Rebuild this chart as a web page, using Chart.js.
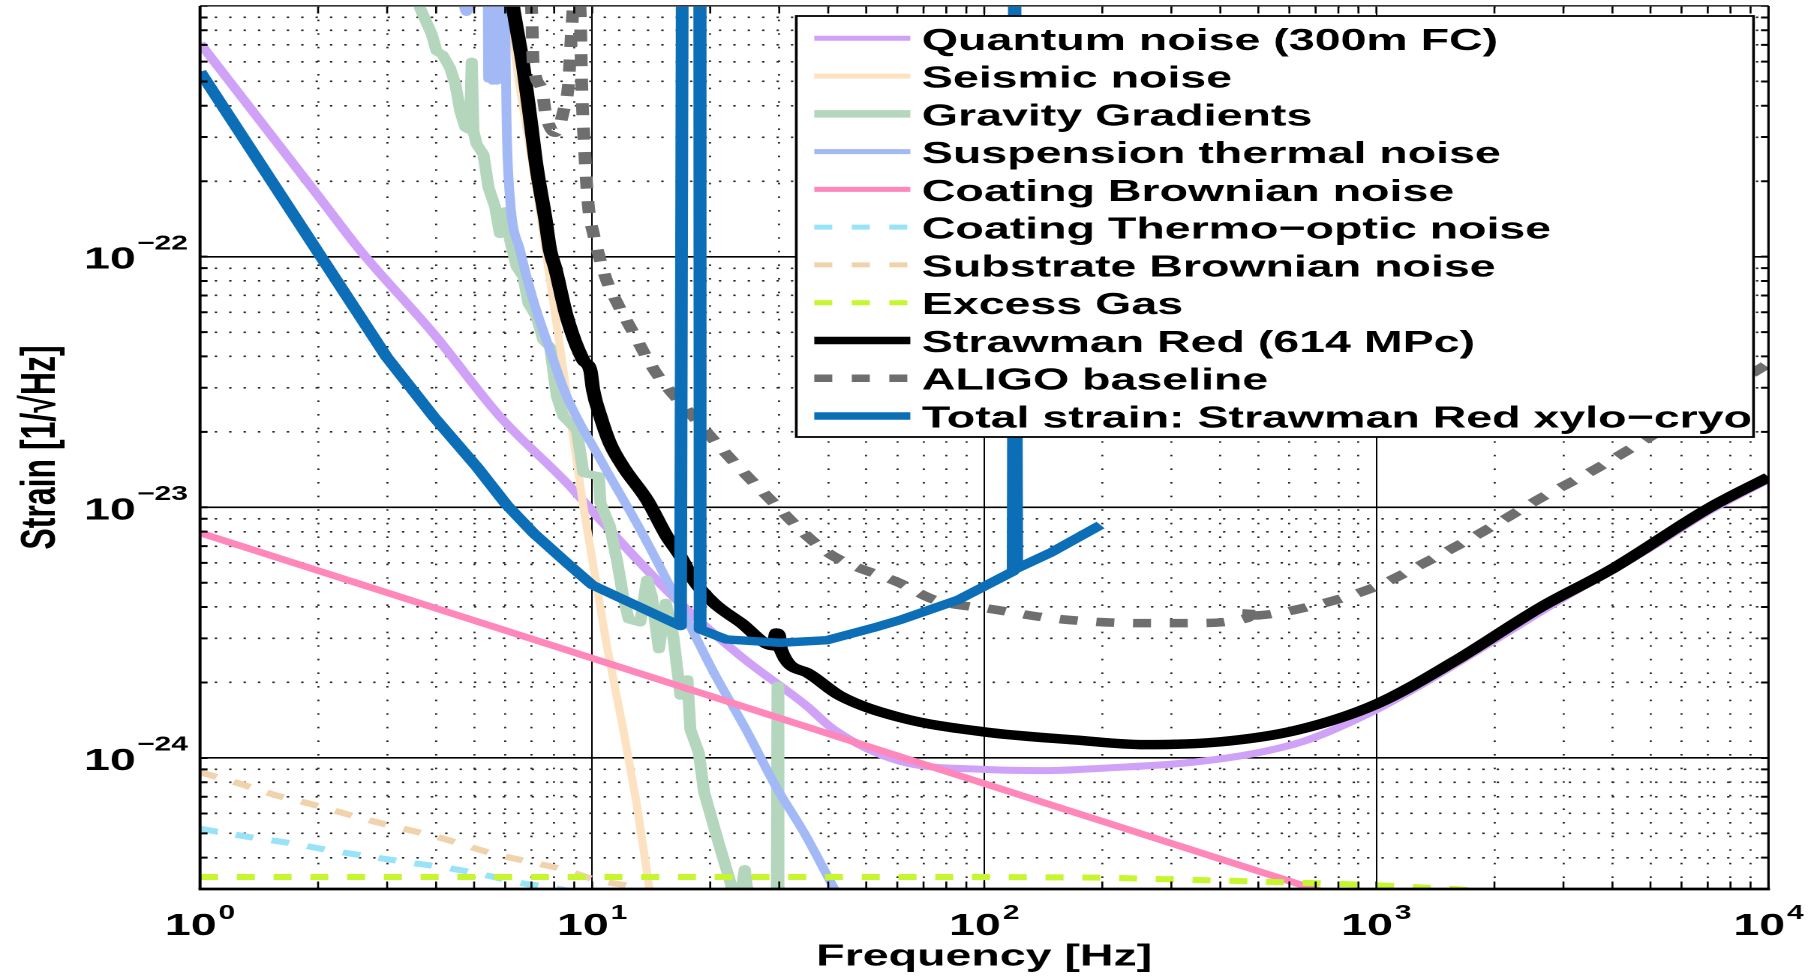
<!DOCTYPE html>
<html>
<head>
<meta charset="utf-8">
<title>Strawman Red noise budget</title>
<script src="https://cdn.jsdelivr.net/npm/chart.js@4.4.0/dist/chart.umd.min.js"></script>
<style>
html, body { margin: 0; padding: 0; background: #fff; overflow: hidden; }
/* the original figure is stretched horizontally, so the canvas is too */
#wrap { width: 1209px; height: 976px; transform: scaleX(1.5004); transform-origin: 0 0; }
</style>
</head>
<body>
<div id="wrap"><canvas id="noiseChart" width="1209" height="976"></canvas></div>
<script>
const FONT = '"Liberation Sans", Arial, Helvetica, sans-serif';

// axes
const xMin = 1, xMax = 1e4;
const yMin = 3e-25, yMax = 1e-21;
const xTickValues = [1, 10, 100, 1000, 10000];
const xTickExps = ['0', '1', '2', '3', '4'];
const yTickValues = [1e-24, 1e-23, 1e-22];
const yTickExps = ['\u221224', '\u221223', '\u221222'];

const seriesLabels = [
    'Quantum noise (300m FC)',
    'Seismic noise',
    'Gravity Gradients',
    'Suspension thermal noise',
    'Coating Brownian noise',
    'Coating Thermo\u2212optic noise',
    'Substrate Brownian noise',
    'Excess Gas',
    'Strawman Red (614 MPc)',
    'ALIGO baseline',
    'Total strain: Strawman Red xylo\u2212cryo'
];

// frequency [Hz] / strain [1/sqrt(Hz)] per curve
const quantumFreq = [1, 2, 2.56, 3.94, 5.82, 8.62, 10.5, 16.1, 23.9, 35.3, 41.3, 61, 100, 143, 200, 337, 500, 668, 1000, 1330, 2000, 3000, 5000, 7000, 10000];
const quantumStrain = [7.1e-22, 1.75e-22, 1.06e-22, 4.93e-23, 2.3e-23, 1.25e-23, 8.9e-24, 4.4e-24, 2.55e-24, 1.61e-24, 1.3e-24, 9.7e-25, 9.0e-25, 8.9e-25, 9.1e-25, 9.6e-25, 1.05e-24, 1.18e-24, 1.56e-24, 2.0e-24, 2.95e-24, 4.35e-24, 6.9e-24, 9.6e-24, 1.29e-23];

const seismicFreq = [5.8, 6.5, 7.2, 8.1, 9.5, 10.9, 12.0, 13.0, 14.0, 14.5];
const seismicStrain = [2e-21, 5e-22, 1.9e-22, 5.5e-23, 1.0e-23, 2.8e-24, 1.3e-24, 6.5e-25, 3.0e-25, 2.2e-25];

const gravityFreq = [3.5, 3.64, 3.9, 4.01, 4.15, 4.34, 4.48, 4.61, 4.75, 4.88, 4.93, 4.98, 5.08, 5.28, 5.44, 5.66, 5.82, 6.0, 6.18, 6.42, 6.68, 6.88, 7.22, 7.51, 7.81, 8.13, 8.45, 9.14, 9.5, 10.4, 10.5, 11.1, 11.6, 12.0, 12.4, 13.26, 13.8, 14.2, 14.8, 15.4, 16.1, 16.8, 17.5, 17.8, 18.7, 19.3, 21.0, 22.5, 23.0, 24.0, 24.5, 25.2, 29.55, 29.7, 29.85, 33];
const gravityStrain = [1.3e-21, 9.8e-22, 7.7e-22, 6.6e-22, 6.4e-22, 5.66e-22, 4.86e-22, 3.8e-22, 3.27e-22, 3.2e-22, 6.0e-22, 3.16e-22, 2.8e-22, 2.56e-22, 1.89e-22, 1.57e-22, 1.23e-22, 1.52e-22, 1.16e-22, 9.1e-23, 8.3e-23, 6.5e-23, 5.74e-23, 4.63e-23, 4.36e-23, 2.76e-23, 2.3e-23, 2.03e-23, 1.37e-23, 1.33e-23, 1.04e-23, 8.4e-24, 6.0e-24, 4.4e-24, 3.57e-24, 3.47e-24, 5.15e-24, 4.4e-24, 2.71e-24, 4.16e-24, 3.06e-24, 1.77e-24, 2.06e-24, 1.3e-24, 1.05e-24, 7.3e-25, 4.6e-25, 3.2e-25, 2.8e-25, 2.9e-25, 3.6e-25, 2.5e-25, 2.0e-25, 1.94e-24, 2.0e-25, 1.5e-25];

const suspensionFreq = [4.45, 4.78, 5.1, 5.4, 5.43, 5.52, 5.58, 5.66, 5.72, 5.8, 5.92, 6.06, 6.18, 6.55, 7.08, 7.81, 8.62, 10.5, 13.26, 17.1, 20.4, 24.8, 29.4, 34.8, 41.5, 45];
const suspensionStrain = [2e-21, 9.4e-22, 2e-21, 3e-21, 5.1e-22, 3e-21, 5.0e-22, 3e-21, 5.0e-22, 3e-21, 3e-21, 3.08e-22, 1.67e-22, 1.06e-22, 6.68e-23, 4.23e-23, 2.76e-23, 1.55e-23, 8.15e-24, 3.8e-24, 2.2e-24, 1.28e-24, 7.7e-25, 5.0e-25, 3.0e-25, 2.4e-25];

const coatBrownFreq = [1, 10, 100, 1000];
const coatBrownStrain = [7.9e-24, 2.5e-24, 7.9e-25, 2.5e-25];

const thermoOpticFreq = [1, 1.33, 1.73, 2.11, 3.32, 4.37, 5.38, 6.5, 8.0, 10];
const thermoOpticStrain = [5.22e-25, 4.84e-25, 4.55e-25, 4.3e-25, 3.85e-25, 3.62e-25, 3.4e-25, 3.18e-25, 3.03e-25, 2.8e-25];

const substrateFreq = [1, 1.26, 1.56, 1.88, 2.75, 4.1, 5.6, 6.92, 8.44, 10.3, 12.4, 15];
const substrateStrain = [8.77e-25, 7.9e-25, 7.1e-25, 6.6e-25, 5.6e-25, 4.8e-25, 4.15e-25, 3.85e-25, 3.59e-25, 3.25e-25, 3.08e-25, 2.8e-25];

const gasFreq = [1, 100, 200, 475, 942, 1574, 2000];
const gasStrain = [3.35e-25, 3.35e-25, 3.33e-25, 3.22e-25, 3.12e-25, 3.0e-25, 2.92e-25];

const strawmanFreq = [6.1, 6.29, 6.68, 6.95, 7.22, 7.59, 7.81, 8.05, 8.62, 9.5, 9.9, 10.05, 10.5, 11.1, 12.0, 13.8, 15.5, 16.8, 18.1, 20.4, 23.9, 29.0, 29.5, 29.9, 30.3, 35.3, 42.9, 61, 100, 170, 256, 400, 625, 1000, 1574, 2630, 3970, 7100, 10000];
const strawmanStrain = [1.35e-21, 9.8e-22, 5.66e-22, 3.58e-22, 2.26e-22, 1.43e-22, 1.06e-22, 9.0e-23, 5.74e-23, 3.85e-23, 3.5e-23, 2.95e-23, 2.3e-23, 1.8e-23, 1.45e-23, 1.07e-23, 7.66e-24, 6.37e-24, 5.15e-24, 4.16e-24, 3.47e-24, 2.8e-24, 3.15e-24, 3.1e-24, 2.7e-24, 2.19e-24, 1.77e-24, 1.45e-24, 1.27e-24, 1.18e-24, 1.13e-24, 1.16e-24, 1.29e-24, 1.64e-24, 2.42e-24, 4.0e-24, 5.65e-24, 1.0e-23, 1.32e-23];

const aligoFreq = [6.9, 7.01, 7.07, 7.44, 7.59, 8.05, 8.45, 8.7, 8.87, 9.1, 9.32, 9.4, 9.6, 9.79, 10.08, 10.5, 10.9, 11.6, 12.5, 14.5, 18.1, 22.5, 28.2, 36.3, 41.3, 60.8, 74.8, 105, 153, 256, 337, 470, 475, 480, 668, 1000, 1327, 1866, 2630, 3707, 10000];
const aligoStrain = [1.3e-21, 9.5e-22, 6.0e-22, 4.7e-22, 3.8e-22, 3.12e-22, 3.8e-22, 4.86e-22, 8.1e-22, 1.3e-21, 9.5e-22, 5.0e-22, 2.41e-22, 1.57e-22, 1.23e-22, 9.6e-23, 8.0e-23, 6.5e-23, 5.24e-23, 3.47e-23, 2.3e-23, 1.57e-23, 1.09e-23, 7.4e-24, 6.37e-24, 4.99e-24, 4.27e-24, 3.92e-24, 3.59e-24, 3.45e-24, 3.45e-24, 3.62e-24, 4.0e-24, 3.7e-24, 4.0e-24, 4.83e-24, 6.0e-24, 7.98e-24, 1.09e-23, 1.45e-23, 3.75e-23];

const totalFreq = [1, 1.985, 2.99, 3.94, 5.08, 6.06, 7.08, 8.62, 10.0, 16.8, 17.0, 18.8, 18.85, 22.0, 30.2, 39.7, 52, 61, 85.7, 118.5, 119.5, 120.2, 121, 148, 198];
const totalStrain = [5.47e-22, 1.06e-22, 3.98e-23, 2.3e-23, 1.45e-23, 1.02e-23, 7.9e-24, 6.0e-24, 4.9e-24, 3.36e-24, 3e-21, 3e-21, 3.26e-24, 2.97e-24, 2.88e-24, 2.95e-24, 3.3e-24, 3.55e-24, 4.27e-24, 5.55e-24, 3e-21, 3e-21, 5.7e-24, 6.6e-24, 8.5e-24];

function points(freq, strain) {
    return freq.map((f, i) => ({x: f, y: strain[i]}));
}

// 1..9 x 10^n inside [min, max]
function decadeTicks(min, max) {
    const out = [];
    for (let e = Math.floor(Math.log10(min)); e <= Math.ceil(Math.log10(max)); e++) {
        for (let k = 1; k <= 9; k++) {
            const v = k * Math.pow(10, e);
            if (v >= min * 0.999999 && v <= max * 1.000001) out.push(v);
        }
    }
    return out;
}

function isDecade(v) {
    const l = Math.log10(v);
    return Math.abs(l - Math.round(l)) < 1e-6;
}

const DASH = [12, 12.5];
const SMOOTH = {cubicInterpolationMode: 'monotone'};

const datasets = [
    Object.assign({data: points(quantumFreq, quantumStrain), borderColor: '#d0a2f7', borderWidth: 7}, SMOOTH),
    {data: points(seismicFreq, seismicStrain), borderColor: '#fde2c2', borderWidth: 5.5},
    {data: points(gravityFreq, gravityStrain), borderColor: '#b4d6bc', borderWidth: 8},
    Object.assign({data: points(suspensionFreq, suspensionStrain), borderColor: '#a3b9f6', borderWidth: 6.5}, SMOOTH),
    {data: points(coatBrownFreq, coatBrownStrain), borderColor: '#ff87b9', borderWidth: 6.5},
    Object.assign({data: points(thermoOpticFreq, thermoOpticStrain), borderColor: '#98e3f7', borderWidth: 6, borderDash: DASH}, SMOOTH),
    Object.assign({data: points(substrateFreq, substrateStrain), borderColor: '#f0d3ac', borderWidth: 6, borderDash: DASH}, SMOOTH),
    {data: points(gasFreq, gasStrain), borderColor: '#c6f62e', borderWidth: 6, borderDash: DASH},
    Object.assign({data: points(strawmanFreq, strawmanStrain), borderColor: '#000000', borderWidth: 9.5}, SMOOTH),
    Object.assign({data: points(aligoFreq, aligoStrain), borderColor: '#6e6e6e', borderWidth: 8.5, borderDash: DASH}, SMOOTH),
    {data: points(totalFreq, totalStrain), borderColor: '#0c6eb6', borderWidth: 8.5}
].map((d, i) => Object.assign({
    label: seriesLabels[i],
    pointRadius: 0,
    fill: false,
    tension: 0,
    borderDash: [],
    borderJoinStyle: 'round',
    capBezierPoints: false,
    clip: 0,
    order: 10 - i
}, d));

// frame, inward ticks, exponent tick labels and the boxed legend
const matlabLook = {
    id: 'matlabLook',
    afterDraw(chart) {
        const ctx = chart.ctx;
        const {left, right, top, bottom} = chart.chartArea;
        const xs = chart.scales.x, ys = chart.scales.y;
        ctx.save();

        ctx.strokeStyle = '#000';
        ctx.setLineDash([]);
        ctx.lineWidth = 1.3;
        ctx.beginPath();
        xs.ticks.forEach(t => {
            const x = xs.getPixelForValue(t.value);
            ctx.moveTo(x, bottom); ctx.lineTo(x, bottom - 7.5);
            ctx.moveTo(x, top); ctx.lineTo(x, top + 7.5);
        });
        ctx.stroke();
        ctx.lineWidth = 2;
        ctx.beginPath();
        ys.ticks.forEach(t => {
            const y = ys.getPixelForValue(t.value);
            ctx.moveTo(left, y); ctx.lineTo(left + 5, y);
            ctx.moveTo(right, y); ctx.lineTo(right - 5, y);
        });
        ctx.stroke();

        ctx.strokeStyle = '#555';
        ctx.lineWidth = 1.3;
        ctx.beginPath(); ctx.moveTo(left, top); ctx.lineTo(right, top); ctx.stroke();
        ctx.strokeStyle = '#000';
        ctx.lineWidth = 2.7;
        ctx.beginPath(); ctx.moveTo(left - 1, bottom); ctx.lineTo(right + 1, bottom); ctx.stroke();
        ctx.lineWidth = 2;
        ctx.beginPath(); ctx.moveTo(left, top); ctx.lineTo(left, bottom); ctx.stroke();
        ctx.lineWidth = 1.6;
        ctx.beginPath(); ctx.moveTo(right, top); ctx.lineTo(right, bottom); ctx.stroke();

        ctx.fillStyle = '#000';
        ctx.textBaseline = 'alphabetic';
        ctx.textAlign = 'left';
        const baseFont = 'bold 31px ' + FONT;
        const expFont = 'bold 20px ' + FONT;
        ctx.font = baseFont;
        const w10 = ctx.measureText('10').width;

        xTickValues.forEach((v, i) => {
            ctx.font = expFont;
            const we = ctx.measureText(xTickExps[i]).width;
            const x0 = xs.getPixelForValue(v) - (w10 + 1.3 + we) / 2;
            ctx.font = baseFont;
            ctx.fillText('10', x0, 935);
            ctx.font = expFont;
            ctx.fillText(xTickExps[i], x0 + w10 + 1.3, 919);
        });
        yTickValues.forEach((v, i) => {
            const y = ys.getPixelForValue(v);
            ctx.font = expFont;
            const we = ctx.measureText(yTickExps[i]).width;
            const xe = 125.3 - we;
            ctx.fillText(yTickExps[i], xe, y - 7.3);
            ctx.font = baseFont;
            ctx.fillText('10', xe - 0.9 - w10, y + 12);
        });

        // legend
        const box = {left: 530.7, top: 16, right: 1168.7, bottom: 437};
        ctx.fillStyle = '#fff';
        ctx.fillRect(box.left, box.top, box.right - box.left, box.bottom - box.top);
        ctx.strokeStyle = '#000';
        ctx.lineWidth = 1.8;
        ctx.strokeRect(box.left, box.top, box.right - box.left, box.bottom - box.top);
        chart.data.datasets.forEach((ds, i) => {
            const y = 38.3 + 37.77 * i;
            ctx.beginPath();
            ctx.setLineDash(ds.borderDash.length ? [12, 13] : []);
            ctx.lineCap = 'butt';
            ctx.lineWidth = ds.borderWidth >= 8 ? 7.5 : 5;
            ctx.strokeStyle = ds.borderColor;
            ctx.moveTo(542.7, y);
            ctx.lineTo(606.7, y);
            ctx.stroke();
            ctx.setLineDash([]);
            ctx.fillStyle = '#000';
            ctx.font = baseFont;
            ctx.fillText(ds.label, 614.4, y + 11.5);
        });
        ctx.restore();
    }
};

const gridOpts = (majorWidth, minorWidth) => ({
    drawTicks: false,
    color: c => (c.tick && isDecade(c.tick.value)) ? '#000' : '#2a2a2a',
    lineWidth: c => (c.tick && isDecade(c.tick.value)) ? majorWidth : minorWidth
});

const config = {
    type: 'line',
    data: {datasets: datasets},
    options: {
        responsive: false,
        devicePixelRatio: 2,
        animation: false,
        events: [],
        layout: {padding: {left: 0, right: 30.33, top: 6, bottom: 0}},
        plugins: {
            legend: {display: false},
            tooltip: {enabled: false}
        },
        scales: {
            x: {
                type: 'logarithmic',
                min: xMin,
                max: xMax,
                afterBuildTicks: s => { s.ticks = decadeTicks(xMin, xMax).map(v => ({value: v})); },
                afterFit: s => { s.height = 87; },
                ticks: {display: false},
                grid: gridOpts(1.0, 1.4),
                border: {display: false, dash: c => (c.tick && isDecade(c.tick.value)) ? [] : [1.6, 12]},
                title: {
                    display: true,
                    text: 'Frequency [Hz]',
                    color: '#000',
                    font: {family: FONT, size: 31, weight: 'bold', lineHeight: 1},
                    padding: {top: 0, bottom: 3.5}
                }
            },
            y: {
                type: 'logarithmic',
                min: yMin,
                max: yMax,
                afterBuildTicks: s => { s.ticks = decadeTicks(yMin, yMax).map(v => ({value: v})); },
                afterFit: s => { s.width = 133.33; },
                ticks: {display: false},
                grid: gridOpts(1.6, 1.6),
                border: {display: false, dash: c => (c.tick && isDecade(c.tick.value)) ? [] : [1.6, 8]},
                title: {
                    display: true,
                    text: 'Strain [1/\u221aHz]',
                    color: '#000',
                    font: {family: FONT, size: 32, weight: 'bold', lineHeight: 1},
                    padding: {top: 11.5, bottom: 0}
                }
            }
        }
    },
    plugins: [matlabLook]
};

const noiseChart = new Chart(document.getElementById('noiseChart'), config);
</script>
</body>
</html>
